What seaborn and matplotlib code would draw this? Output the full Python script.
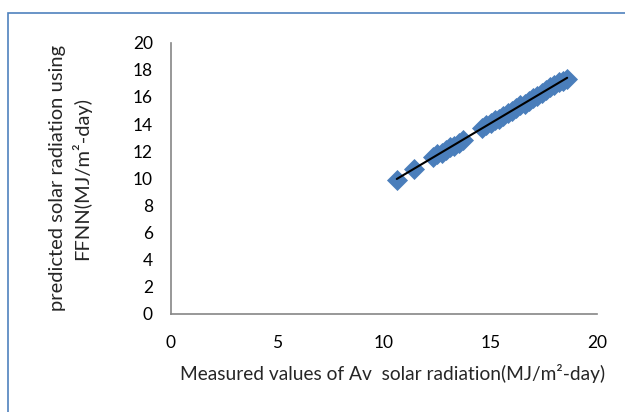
import matplotlib
matplotlib.use("Agg")
import matplotlib.pyplot as plt
import seaborn as sns
import pandas as pd
from matplotlib.patches import Rectangle

measured = [10.6, 11.4, 12.3, 12.5, 12.7, 12.9, 13.1, 13.3, 13.5, 13.7,
            14.6, 14.8, 15.0, 15.2, 15.4, 15.6, 15.8, 16.0, 16.2, 16.4,
            16.6, 16.8, 17.0, 17.2, 17.4, 17.6, 17.8, 18.0, 18.2, 18.4, 18.6]
predicted = [9.9, 10.7, 11.6, 11.8, 11.9, 12.1, 12.3, 12.4, 12.6, 12.8,
             13.7, 13.9, 14.1, 14.3, 14.4, 14.6, 14.8, 15.0, 15.2, 15.4,
             15.5, 15.7, 15.9, 16.1, 16.3, 16.5, 16.7, 16.9, 17.1, 17.2, 17.3]
x_ticks = [0, 5, 10, 15, 20]
y_ticks = [0, 2, 4, 6, 8, 10, 12, 14, 16, 18, 20]

df = pd.DataFrame({"measured": measured, "predicted": predicted})

sns.set_style("white")
plt.rcParams['font.family'] = ['Lato', 'DejaVu Sans']

fig = plt.figure(figsize=(6.25, 4.12), dpi=100)
ax = fig.add_axes([171/625, 1-314/412, (597-171)/625, (314-42.7)/412])

sns.scatterplot(data=df, x="measured", y="predicted", ax=ax, marker="D",
                s=115, color="#4A7EBB", linewidth=0, zorder=2)
sns.regplot(data=df, x="measured", y="predicted", ax=ax, scatter=False, ci=None,
            line_kws={"color": "black", "linewidth": 1.5, "zorder": 3})

ax.set_xlim(0, 20)
ax.set_ylim(0, 20)
ax.set_xticks(x_ticks)
ax.set_yticks(y_ticks)
ax.set_xticklabels([str(v) for v in x_ticks])
ax.set_yticklabels([str(v) for v in y_ticks])
for s in ["top", "right"]:
    ax.spines[s].set_visible(False)
for s in ["left", "bottom"]:
    ax.spines[s].set_color("#868686")
    ax.spines[s].set_linewidth(1.2)
ax.tick_params(axis="both", direction="out", length=4, width=1.2, color="#868686",
               labelsize=12.5, labelcolor="black")
ax.tick_params(axis="x", pad=11)
ax.tick_params(axis="y", pad=9)

ax.set_xlabel("Measured values of Av  solar radiation(MJ/m²-day)", fontsize=13.8, labelpad=10)
ax.xaxis.set_label_coords((393 - 171) / 426, -0.185)
ax.set_ylabel("predicted solar radiation using\nFFNN(MJ/m²-day)", fontsize=14.5, labelpad=30,
              linespacing=1.3)

fig.patches.append(Rectangle((8/625, -0.1), 1.2, 1 - 12.5/412 + 0.1, transform=fig.transFigure,
                             fill=False, edgecolor="#4F81BD", linewidth=1.2))

fig.savefig("out.png", dpi=100)
